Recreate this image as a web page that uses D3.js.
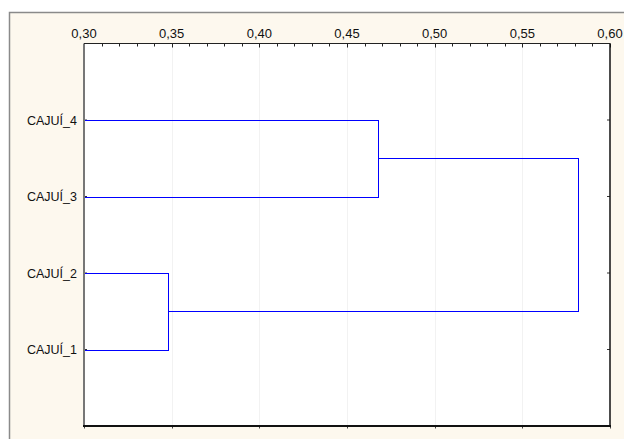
<!DOCTYPE html>
<html lang="es">
<head>
    <meta charset="UTF-8">
    <title>Dendrograma CAJUÍ</title>
    <script src="https://d3js.org/d3.v7.min.js"></script>
    <style>
        body { margin: 0; background: #fff; font-family: Arial, "Liberation Sans", sans-serif; }
        .lbl { font-size: 12px; fill: #111; }
        .link { fill: none; stroke: #0000ff; stroke-width: 1; shape-rendering: crispEdges; }
    </style>
</head>
<body>
    <svg width="624" height="439"></svg>
    <script>
        // leaves, bottom to top
        const leaves = ["CAJUÍ_1", "CAJUÍ_2", "CAJUÍ_3", "CAJUÍ_4"];
        // joins: children are leaf names or earlier join indices
        const joins = [
            { left: "CAJUÍ_1", right: "CAJUÍ_2", dist: 0.348 },
            { left: "CAJUÍ_3", right: "CAJUÍ_4", dist: 0.4675 },
            { left: 0, right: 1, dist: 0.582 }
        ];
        const xTicks = [0.30, 0.35, 0.40, 0.45, 0.50, 0.55, 0.60];
        const minorTicks = d3.range(31).map(i => 0.30 + i * 0.01);

        const svg = d3.select("svg");
        const L = 84, R = 610, T = 43.5, B = 426;

        // outer panel
        svg.append("rect").attr("x", 9.5).attr("y", 12.5).attr("width", 640).attr("height", 460)
            .attr("fill", "#fdf8ee").attr("stroke", "#8a8a8a").attr("stroke-width", 1.5);
        svg.append("rect").attr("x", L).attr("y", T).attr("width", R - L).attr("height", B - T)
            .attr("fill", "#fff");

        const x = d3.scaleLinear().domain([0.30, 0.60]).range([L, R]);
        const y = d3.scaleLinear().domain([0, leaves.length + 1]).range([B, T]);

        // grid
        svg.append("g").selectAll("line").data(xTicks.slice(1, -1)).join("line")
            .attr("x1", d => Math.round(x(d)) + 0.5).attr("x2", d => Math.round(x(d)) + 0.5)
            .attr("y1", T).attr("y2", B)
            .attr("stroke", "#e4e4e4").attr("stroke-dasharray", "1,1");

        // top axis
        const fmt = d => d3.format(".2f")(d).replace(".", ",");
        const topAxis = svg.append("g").attr("transform", `translate(0,${T})`);
        topAxis.selectAll("line").data(minorTicks).join("line")
            .attr("x1", d => Math.round(x(d)) + 0.5).attr("x2", d => Math.round(x(d)) + 0.5)
            .attr("y1", 0).attr("y2", (d, i) => i % 5 === 0 ? 4 : 3)
            .attr("stroke", "#222");
        topAxis.selectAll("text").data(xTicks).join("text")
            .attr("class", "lbl").attr("x", d => x(d)).attr("y", -6)
            .attr("text-anchor", "middle").style("font-size", "13px").text(fmt);

        // bottom ticks
        svg.append("g").selectAll("line").data(xTicks).join("line")
            .attr("x1", d => Math.round(x(d)) + 0.5).attr("x2", d => Math.round(x(d)) + 0.5)
            .attr("y1", B).attr("y2", B + 2.5).attr("stroke", "#444");

        // leaf labels and side ticks
        const leafPos = new Map(leaves.map((d, i) => [d, i + 1]));
        svg.append("g").selectAll("text").data(leaves).join("text")
            .attr("class", "lbl").attr("x", 77).attr("y", d => y(leafPos.get(d)))
            .attr("dy", "0.36em").attr("text-anchor", "end").style("font-size", "12.5px").text(d => d);
        svg.append("g").selectAll("line").data(leaves).join("line")
            .attr("x1", L).attr("x2", L + 3).attr("y1", d => y(leafPos.get(d))).attr("y2", d => y(leafPos.get(d)))
            .attr("stroke", "#333");
        svg.append("g").selectAll("line").data(leaves).join("line")
            .attr("x1", R - 3).attr("x2", R).attr("y1", d => y(leafPos.get(d))).attr("y2", d => y(leafPos.get(d)))
            .attr("stroke", "#333");

        // dendrogram links
        const nodes = [];
        const pos = c => typeof c === "number" ? nodes[c] : { d: 0.30, p: leafPos.get(c) };
        const links = [];
        joins.forEach(j => {
            const a = pos(j.left), b = pos(j.right);
            const n = { d: j.dist, p: (a.p + b.p) / 2 };
            nodes.push(n);
            links.push({ c: a, n }, { c: b, n });
        });
        svg.append("g").selectAll("path").data(links).join("path")
            .attr("class", "link")
            .attr("d", k => `M${x(k.c.d)},${Math.round(y(k.c.p)) + 0.5}H${Math.round(x(k.n.d)) + 0.5}V${Math.round(y(k.n.p)) + 0.5}`);

        // frame
        svg.append("line").attr("x1", L).attr("x2", L).attr("y1", T).attr("y2", B + 1)
            .attr("stroke", "#777").attr("stroke-width", 2);
        svg.append("line").attr("x1", L - 1).attr("x2", R + 1).attr("y1", B).attr("y2", B)
            .attr("stroke", "#111").attr("stroke-width", 2);
        svg.append("line").attr("x1", R).attr("x2", R).attr("y1", T).attr("y2", B)
            .attr("stroke", "#111").attr("stroke-width", 1.5);
        svg.append("line").attr("x1", L).attr("x2", R).attr("y1", T).attr("y2", T)
            .attr("stroke", "#222").attr("stroke-width", 1);
    </script>
</body>
</html>
